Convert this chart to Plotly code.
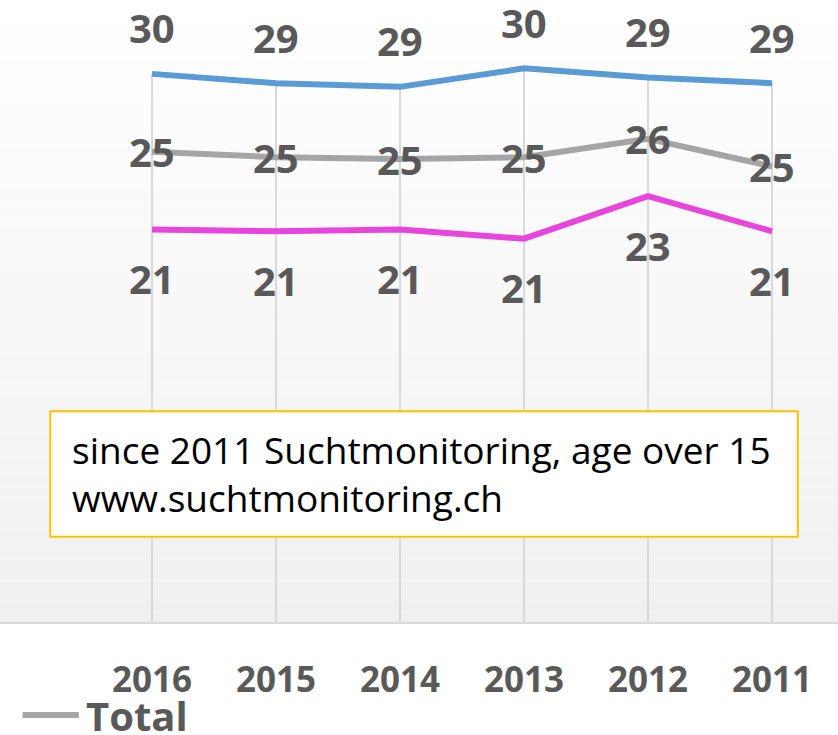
import plotly.graph_objects as go

# values (labels show them rounded)
years = ["2016", "2015", "2014", "2013", "2012", "2011"]
upper = [29.6, 29.1, 28.9, 29.9, 29.4, 29.1]
total = [25.4, 25.1, 25.0, 25.1, 26.1, 24.6]
lower = [21.2, 21.1, 21.2, 20.7, 23.0, 21.1]
note_lines = ["since 2011 Suchtmonitoring, age over 15", "www.suchtmonitoring.ch"]

BLUE = "#5b9bd5"
GREY = "#a5a5a5"
PINK = "#e845dc"
LABEL = "#595959"
GRID = "#d9d9d9"
FONT = "Open Sans, Lato, sans-serif"

fig = go.Figure()

# drop lines from the top series down to the axis
drop_x, drop_y = [], []
for yr, v in zip(years, upper):
    drop_x += [yr, yr, None]
    drop_y += [v, 0, None]
fig.add_trace(go.Scatter(x=drop_x, y=drop_y, mode="lines",
                         line=dict(color=GRID, width=2),
                         showlegend=False, hoverinfo="skip"))

series = [
    ("upper", upper, BLUE, 46),
    ("Total", total, GREY, 0),
    ("lower", lower, PINK, -49),
]
for name, vals, color, shift in series:
    fig.add_trace(go.Scatter(x=years, y=vals, name=name, mode="lines",
                             line=dict(color=color, width=6),
                             showlegend=False))
    # year strings look numeric, so place labels by category index
    for i, v in enumerate(vals):
        fig.add_annotation(x=i, y=v, text=f"{v:.0f}", showarrow=False,
                           yshift=shift,
                           font=dict(size=40, color=LABEL, weight="bold"))

# soft vertical gradient behind the plot area
n = 60
for i in range(n):
    t = i / (n - 1)
    c = int(round(255 - 15 * t))
    fig.add_shape(type="rect", xref="paper", yref="paper", x0=0, x1=1,
                  y0=1 - (i + 1) / n, y1=1 - i / n,
                  fillcolor=f"rgb({c},{c},{c})", line_width=0, layer="below")

# source note in a gold-framed box
fig.add_shape(type="rect", xref="paper", yref="paper",
              x0=0.060, x1=0.952, y0=0.137, y1=0.339,
              fillcolor="white", line=dict(color="#ffc000", width=2))
fig.add_annotation(xref="paper", yref="paper", x=0.084, y=0.238,
                   xanchor="left", yanchor="middle",
                   text="<br>".join(note_lines), showarrow=False,
                   align="left", font=dict(size=37, color="black"))

# legend entry for the Total series (the others are cropped away)
fig.add_shape(type="line", xref="paper", yref="paper",
              x0=0.027, x1=0.094, y0=-0.1495, y1=-0.1495,
              line=dict(color=GREY, width=6))
fig.add_annotation(xref="paper", yref="paper", x=0.100, y=-0.151,
                   xanchor="left", yanchor="middle", text="Total",
                   showarrow=False,
                   font=dict(size=40, color=LABEL, weight="bold"))

fig.update_layout(
    width=838, height=735,
    margin=dict(l=0, r=0, t=0, b=113),
    paper_bgcolor="white", plot_bgcolor="white",
    font=dict(family=FONT, color=LABEL),
    showlegend=False,
)
fig.update_xaxes(type="category", range=[-1.226, 5.532], showgrid=False,
                 showline=True, linecolor=GRID, linewidth=2, ticks="",
                 ticklabelstandoff=26,
                 tickfont=dict(size=35, color=LABEL, weight="bold"))
fig.update_yaxes(range=[0, 33.59], visible=False)

fig.write_html("out.html", config={"displayModeBar": False},
               post_script="document.body.style.margin = '0';")
